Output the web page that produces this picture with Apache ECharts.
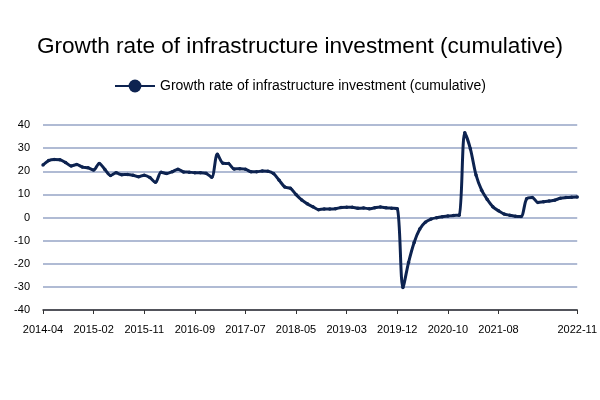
<!DOCTYPE html>
<html>
<head>
<meta charset="utf-8">
<script src="https://cdn.jsdelivr.net/npm/echarts@6/dist/echarts.min.js"></script>
<style>
  html, body { margin: 0; padding: 0; background: #fff; }
  #chart { width: 600px; height: 400px; }
</style>
</head>
<body>
<div id="chart"></div>
<script>
// months (January is not published separately, Jan-Feb is reported as -02)
var months = [
    '2014-04','2014-05','2014-06','2014-07','2014-08','2014-09','2014-10','2014-11','2014-12',
    '2015-02','2015-03','2015-04','2015-05','2015-06','2015-07','2015-08','2015-09','2015-10','2015-11','2015-12',
    '2016-02','2016-03','2016-04','2016-05','2016-06','2016-07','2016-08','2016-09','2016-10','2016-11','2016-12',
    '2017-02','2017-03','2017-04','2017-05','2017-06','2017-07','2017-08','2017-09','2017-10','2017-11','2017-12',
    '2018-02','2018-03','2018-04','2018-05','2018-06','2018-07','2018-08','2018-09','2018-10','2018-11','2018-12',
    '2019-02','2019-03','2019-04','2019-05','2019-06','2019-07','2019-08','2019-09','2019-10','2019-11','2019-12',
    '2020-02','2020-03','2020-04','2020-05','2020-06','2020-07','2020-08','2020-09','2020-10','2020-11','2020-12',
    '2021-02','2021-03','2021-04','2021-05','2021-06','2021-07','2021-08','2021-09','2021-10','2021-11','2021-12',
    '2022-02','2022-03','2022-04','2022-05','2022-06','2022-07','2022-08','2022-09','2022-10','2022-11'
];

var growthRate = [
    22.7, 24.6, 25.1, 25.0, 23.8, 22.3, 22.9, 21.8, 21.5,
    20.5, 23.4, 20.8, 18.2, 19.3, 18.5, 18.6, 18.3, 17.6, 18.3, 17.3,
    15.2, 19.6, 19.0, 19.8, 20.9, 19.7, 19.6, 19.4, 19.4, 19.1, 17.4,
    27.3, 23.5, 23.3, 21.0, 21.1, 20.9, 19.8, 19.8, 20.1, 20.0, 19.0,
    16.1, 13.2, 12.6, 9.9, 7.6, 5.9, 4.6, 3.4, 3.7, 3.7, 3.8,
    4.3, 4.4, 4.4, 4.0, 4.1, 3.8, 4.2, 4.5, 4.2, 4.0, 3.8,
    -30.3, -19.5, -10.8, -5.0, -2.0, -0.7, -0.1, 0.3, 0.6, 0.9, 1.0,
    36.6, 29.7, 18.4, 11.8, 7.8, 4.6, 2.9, 1.5, 1.0, 0.5, 0.4,
    8.1, 8.7, 6.5, 6.8, 7.1, 7.5, 8.3, 8.6, 8.8, 8.9
];

var seriesName = 'Growth rate of infrastructure investment (cumulative)';
var yTicks = { min: -40, max: 40, step: 10 };

var chart = echarts.init(document.getElementById('chart'));

// label every 9th month, plus the last one
function showLabel(idx) {
    return idx === months.length - 1 || (idx % 9 === 0 && idx <= 81);
}

var opt = {
    animation: false,
    textStyle: { fontFamily: 'Liberation Sans, Arial, sans-serif' },
    title: {
        text: seriesName,
        left: 'center',
        top: 30,
        textStyle: { fontSize: 22.6, fontWeight: 'normal', color: '#000' }
    },
    legend: {
        top: 74,
        left: 'center',
        itemWidth: 40,
        itemHeight: 16,
        itemGap: 10,
        textStyle: { fontSize: 14, color: '#000' },
        data: [seriesName]
    },
    grid: {
        left: 43,
        right: 19,
        top: 125,
        bottom: 90,
        containLabel: false
    },
    xAxis: {
        type: 'category',
        data: months,
        boundaryGap: false,
        axisLine: { onZero: false, lineStyle: { color: '#333', width: 1.5 } },
        axisTick: { show: true, interval: showLabel, length: 4, lineStyle: { color: '#333' } },
        axisLabel: { interval: showLabel, color: '#000', fontSize: 11, margin: 14 },
        splitLine: { show: false }
    },
    yAxis: {
        type: 'value',
        min: yTicks.min,
        max: yTicks.max,
        interval: yTicks.step,
        axisLine: { show: false },
        axisTick: { show: false },
        axisLabel: { color: '#000', fontSize: 11, margin: 13 },
        splitLine: { lineStyle: { color: '#b0bbd4', width: 2 } }
    },
    series: [
        {
            name: seriesName,
            type: 'line',
            data: growthRate,
            smooth: 0.3,
            symbol: 'circle',
            symbolSize: 3.5,
            showSymbol: true,
            showAllSymbol: true,
            lineStyle: { color: '#0d2350', width: 3 },
            itemStyle: { color: '#0d2350' }
        }
    ]
};

chart.setOption(opt, true);
</script>
</body>
</html>
